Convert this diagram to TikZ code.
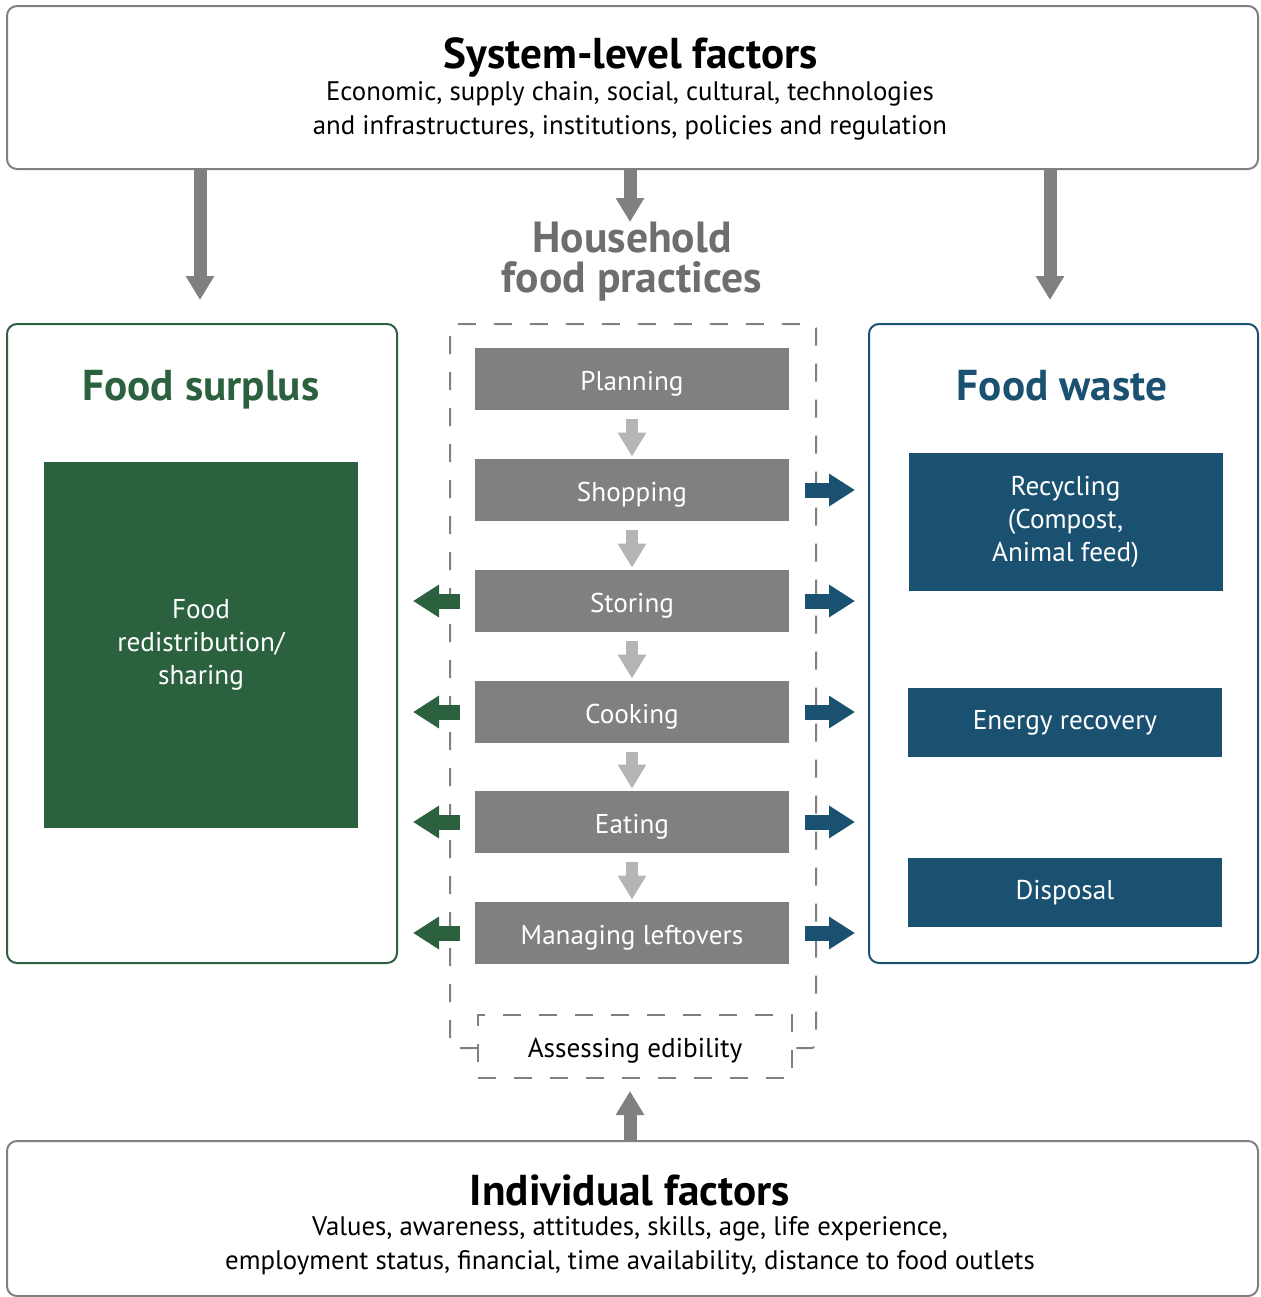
\documentclass[tikz,border=0pt]{standalone}
\usepackage{fontspec}
\setmainfont{PT Sans}
\usetikzlibrary{arrows.meta,calc}
\definecolor{fgreen}{HTML}{2C6140}
\definecolor{fblue}{HTML}{1B5170}
\definecolor{fgray}{HTML}{808080}
\definecolor{lgray}{HTML}{B5B5B5}
\definecolor{hgray}{HTML}{6E6E6E}

\begin{document}
\begin{tikzpicture}[x=0.5pt, y=-0.5pt,
    frame/.style={draw, line width=1pt, rounded corners=5pt, inner sep=0pt},
    practice/.style={fill=fgray, text=white, minimum width=157pt, minimum height=31pt, inner sep=0pt,
        text height=12.5pt, text depth=1.5pt, font=\fontsize{13.6}{15}\selectfont},
    wastebox/.style={fill=fblue, text=white, minimum width=157pt, inner sep=0pt, align=center,
        font=\fontsize{13.6}{16.5}\selectfont},
    bigarrow/.style={fgray, line width=6.5pt, -{Triangle[length=12pt,width=13.5pt]}},
    steparrow/.style={lgray, line width=6pt, -{Triangle[length=12pt,width=13.5pt]}, shorten <=4.5pt, shorten >=1pt},
    garrow/.style={fgreen, line width=7.5pt, -{Triangle[length=13pt,width=15.5pt]}, shorten <=7.5pt, shorten >=7.5pt},
    barrow/.style={fblue, line width=7.5pt, -{Triangle[length=13pt,width=15.5pt]}, shorten <=8pt, shorten >=6.5pt},
    title/.style={font=\fontsize{21.6}{24}\selectfont\bfseries},
    sidetitle/.style={anchor=base, font=\fontsize{21.6}{24}\selectfont\bfseries},
    sub/.style={align=center, font=\fontsize{13.4}{17}\selectfont}
]
\useasboundingbox (0,0) rectangle (1260,1297);
\clip (0,0) rectangle (1260,1297);

% system level
\node[frame, draw=fgray, fill=white, minimum width=625.5pt, minimum height=81.5pt] (sys) at (632.5,87.5) {};
\node[title] (systitle) at (631,57) {System-level factors};
\node[sub] (systext) at (630,111) {Economic, supply chain, social, cultural, technologies\\and infrastructures, institutions, policies and regulation};

% household practices
\node[hgray, align=center, font=\fontsize{21.8}{20}\selectfont\bfseries] (hh) at (632,262) {Household\\food practices};
\draw[fgray, line width=1pt, dash pattern=on 9pt off 9pt, rounded corners=2pt]
    (478,1048) -- (450,1048) -- (450,324) -- (816,324) -- (816,1048) -- (792,1048);

\node[practice] (plan) at (632,379) {Planning};
\node[practice] (shop) at (632,490) {Shopping};
\node[practice] (stor) at (632,601) {Storing};
\node[practice] (cook) at (632,712) {Cooking};
\node[practice] (eat)  at (632,822) {Eating};
\node[practice] (left) at (632,933) {Managing leftovers};

\draw[steparrow] (plan) -- (shop);
\draw[steparrow] (shop) -- (stor);
\draw[steparrow] (stor) -- (cook);
\draw[steparrow] (cook) -- (eat);
\draw[steparrow] (eat) -- (left);

\node[draw=fgray, line width=1pt, dash pattern=on 9pt off 9pt, minimum width=157pt, minimum height=31.5pt,
    inner sep=0pt, text height=12.5pt, text depth=1.5pt, font=\fontsize{13.6}{15}\selectfont] (assess) at (635,1046.5) {Assessing edibility};

% food surplus
\node[frame, draw=fgreen, minimum width=195pt, minimum height=319.5pt] (surplus) at (202,643.5) {};
\node[fgreen, sidetitle] (stitle) at (201,400) {Food surplus};
\node[fill=fgreen, text=white, minimum width=157pt, minimum height=183pt, inner sep=0pt, align=center,
    font=\fontsize{13.6}{16.5}\selectfont] (redis) at (201,645) {Food\\redistribution/\\sharing};

% food waste
\node[frame, draw=fblue, minimum width=194.5pt, minimum height=319.5pt] (waste) at (1063.5,643.5) {};
\node[fblue, sidetitle] (wtitle) at (1062,400) {Food waste};
\node[wastebox, minimum height=69pt] (recyc) at (1065.5,522) {Recycling\\(Compost,\\Animal feed)};
\node[wastebox, minimum height=34.5pt] (energy) at (1065,722.5) {Energy recovery};
\node[wastebox, minimum height=34.5pt] (disp) at (1065,892.5) {Disposal};

% side arrows
\foreach \p in {stor,cook,eat,left}
    \draw[garrow] (\p.west) -- (\p.west -| surplus.east);
\foreach \p in {shop,stor,cook,eat,left}
    \draw[barrow] (\p.east) -- (\p.east -| waste.west);

% individual
\node[frame, draw=fgray, fill=white, minimum width=625.5pt, minimum height=77.5pt] (ind) at (632.5,1218.5) {};
\node[title] (indtitle) at (630,1190) {Individual factors};
\node[sub] (indtext) at (630,1246) {Values, awareness, attitudes, skills, age, life experience,\\employment status, financial, time availability, distance to food outlets};

% arrows
\coordinate (ltip) at (200,300);
\coordinate (rtip) at (1050,300);
\coordinate (htip) at (630,222);
\draw[bigarrow] (sys.south -| ltip) -- (ltip);
\draw[bigarrow] (sys.south -| htip) -- (htip);
\draw[bigarrow] (sys.south -| rtip) -- (rtip);
\draw[bigarrow, shorten >=6pt] (ind.north -| htip) -- (assess.south -| htip);

\end{tikzpicture}
\end{document}
